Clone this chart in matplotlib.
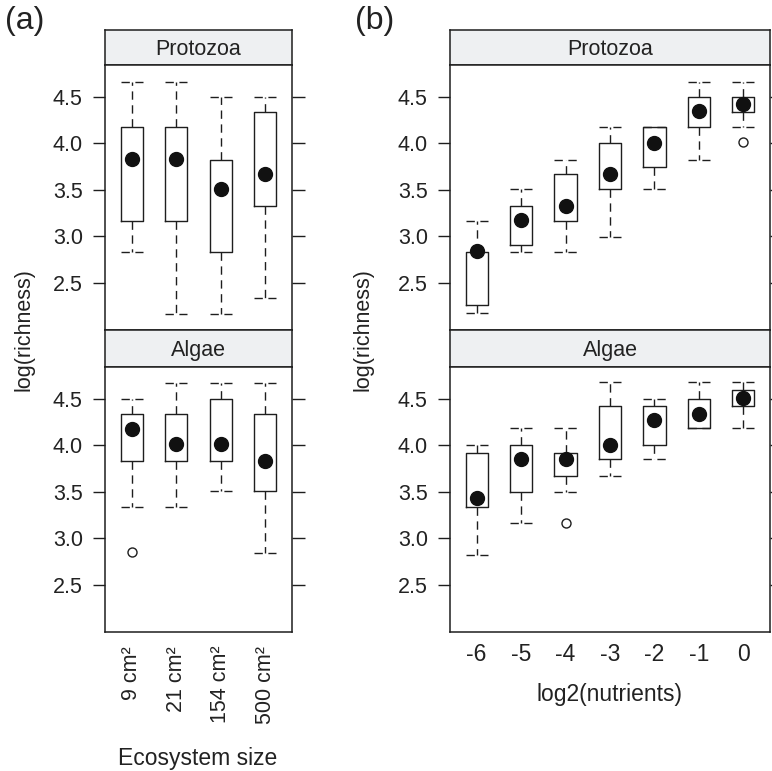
import matplotlib
matplotlib.use("Agg")
import matplotlib.pyplot as plt

plt.rcParams['font.family'] = ['Liberation Sans', 'DejaVu Sans']

# ---------------- data ----------------
size_labels = ['9 cm²', '21 cm²', '154 cm²', '500 cm²']
nutr_labels = ['-6', '-5', '-4', '-3', '-2', '-1', '0']

# panel (a) Protozoa
a_pro_whislo = [2.83, 2.17, 2.17, 2.34]
a_pro_q1     = [3.17, 3.17, 2.83, 3.33]
a_pro_med    = [3.83, 3.83, 3.51, 3.67]
a_pro_q3     = [4.17, 4.17, 3.82, 4.34]
a_pro_whishi = [4.66, 4.66, 4.50, 4.50]
a_pro_out    = [[], [], [], []]

# panel (a) Algae
a_alg_whislo = [3.34, 3.34, 3.51, 2.84]
a_alg_q1     = [3.83, 3.83, 3.83, 3.51]
a_alg_med    = [4.17, 4.01, 4.01, 3.83]
a_alg_q3     = [4.34, 4.34, 4.50, 4.34]
a_alg_whishi = [4.50, 4.67, 4.67, 4.67]
a_alg_out    = [[2.85], [], [], []]

# panel (b) Protozoa
b_pro_whislo = [2.18, 2.83, 2.83, 2.99, 3.51, 3.82, 4.17]
b_pro_q1     = [2.26, 2.91, 3.17, 3.51, 3.75, 4.17, 4.34]
b_pro_med    = [2.84, 3.18, 3.33, 3.67, 4.00, 4.35, 4.42]
b_pro_q3     = [2.83, 3.33, 3.67, 4.00, 4.17, 4.50, 4.50]
b_pro_whishi = [3.17, 3.51, 3.82, 4.17, 4.17, 4.66, 4.66]
b_pro_out    = [[], [], [], [], [], [], [4.01]]

# panel (b) Algae
b_alg_whislo = [2.82, 3.16, 3.50, 3.67, 3.85, 4.18, 4.18]
b_alg_q1     = [3.34, 3.50, 3.67, 3.85, 4.00, 4.18, 4.42]
b_alg_med    = [3.43, 3.85, 3.85, 4.00, 4.27, 4.34, 4.51]
b_alg_q3     = [3.92, 4.00, 3.92, 4.42, 4.42, 4.50, 4.59]
b_alg_whishi = [4.00, 4.18, 4.18, 4.68, 4.50, 4.68, 4.68]
b_alg_out    = [[], [], [3.17], [], [], [], []]

yticks = [2.5, 3.0, 3.5, 4.0, 4.5]
ylim = (1.995, 4.84)

W, H = 772, 771
fig = plt.figure(figsize=(W / 100, H / 100), dpi=100)

LINE = '#1e1e1e'
STRIP = '#eef0f2'
TXT = '#222222'
FS = 15.5


def rect(x0, y0, x1, y1):
    return [x0 / W, 1 - y1 / H, (x1 - x0) / W, (y1 - y0) / H]


def draw_box(ax, whislo, q1, med, q3, whishi, outs, n):
    stats = []
    for i in range(n):
        lo_box, hi_box = min(q1[i], q3[i]), max(q1[i], q3[i])
        stats.append(dict(med=med[i], q1=lo_box, q3=hi_box,
                          whislo=whislo[i], whishi=whishi[i],
                          fliers=outs[i]))
    pos = list(range(1, n + 1))
    ax.bxp(stats, positions=pos, widths=0.5, capwidths=0.5,
           boxprops=dict(color=LINE, linewidth=1.0),
           whiskerprops=dict(color=LINE, linewidth=1.0, linestyle=(0, (6, 4))),
           capprops=dict(color=LINE, linewidth=1.0, linestyle=(0, (6, 4))),
           medianprops=dict(linewidth=0),
           flierprops=dict(marker='o', markerfacecolor='none',
                           markeredgecolor=LINE, markersize=6.5,
                           markeredgewidth=1.0),
           manage_ticks=False)
    ax.plot(pos, med, 'o', color='#111111', markersize=10, zorder=5)


def setup(ax, n):
    ax.set_xlim(0.4, n + 0.6)
    ax.set_ylim(*ylim)
    ax.set_yticks(yticks)
    ax.set_yticklabels([f'{v:.1f}' for v in yticks], fontsize=FS, color=TXT)
    ax.tick_params(axis='y', which='both', direction='out', length=9,
                   width=1.0, color=LINE, left=True, right=True, pad=7)
    ax.tick_params(axis='x', length=0)
    for s in ax.spines.values():
        s.set_color(LINE)
        s.set_linewidth(1.1)


def strip(x0, x1, y0, y1, label):
    sax = fig.add_axes(rect(x0, y0, x1, y1))
    sax.set_facecolor(STRIP)
    sax.set_xticks([])
    sax.set_yticks([])
    for s in sax.spines.values():
        s.set_color(LINE)
        s.set_linewidth(1.1)
    sax.text(0.5, 0.45, label, ha='center', va='center', fontsize=FS,
             color=TXT, transform=sax.transAxes)


panels = [
    (105, 292, 4,
     (a_pro_whislo, a_pro_q1, a_pro_med, a_pro_q3, a_pro_whishi, a_pro_out),
     (a_alg_whislo, a_alg_q1, a_alg_med, a_alg_q3, a_alg_whishi, a_alg_out),
     size_labels),
    (450, 770, 7,
     (b_pro_whislo, b_pro_q1, b_pro_med, b_pro_q3, b_pro_whishi, b_pro_out),
     (b_alg_whislo, b_alg_q1, b_alg_med, b_alg_q3, b_alg_whishi, b_alg_out),
     nutr_labels),
]

for idx, (x0, x1, n, pro, alg, xl) in enumerate(panels):
    strip(x0, x1, 30, 65, 'Protozoa')
    ax1 = fig.add_axes(rect(x0, 65, x1, 330))
    draw_box(ax1, *pro, n)
    setup(ax1, n)
    ax1.set_xticks([])

    strip(x0, x1, 330, 367, 'Algae')
    ax2 = fig.add_axes(rect(x0, 367, x1, 632))
    draw_box(ax2, *alg, n)
    setup(ax2, n)
    ax2.set_xticks(range(1, n + 1))
    if idx == 0:
        ax2.set_xticklabels(xl, rotation=90, fontsize=FS, color=TXT,
                            va='top', ha='center')
        ax2.tick_params(axis='x', pad=10)
    else:
        ax2.set_xticklabels(xl, fontsize=FS + 1, color=TXT)
        ax2.tick_params(axis='x', pad=8)

# axis titles
fig.text(24 / W, 1 - 330 / H, 'log(richness)', rotation=90, ha='center',
         va='center', fontsize=FS, color=TXT)
fig.text(363 / W, 1 - 330 / H, 'log(richness)', rotation=90, ha='center',
         va='center', fontsize=FS, color=TXT)
fig.text(198 / W, 1 - 758 / H, 'Ecosystem size', ha='center', va='center',
         fontsize=FS + 1, color=TXT)
fig.text(610 / W, 1 - 695 / H, 'log2(nutrients)', ha='center', va='center',
         fontsize=FS + 1, color=TXT)

# panel letters
fig.text(5 / W, 1 - 21 / H, '(a)', ha='left', va='center', fontsize=23,
         color=TXT)
fig.text(355 / W, 1 - 21 / H, '(b)', ha='left', va='center', fontsize=23,
         color=TXT)

fig.savefig('out.png', dpi=100, facecolor='white')
